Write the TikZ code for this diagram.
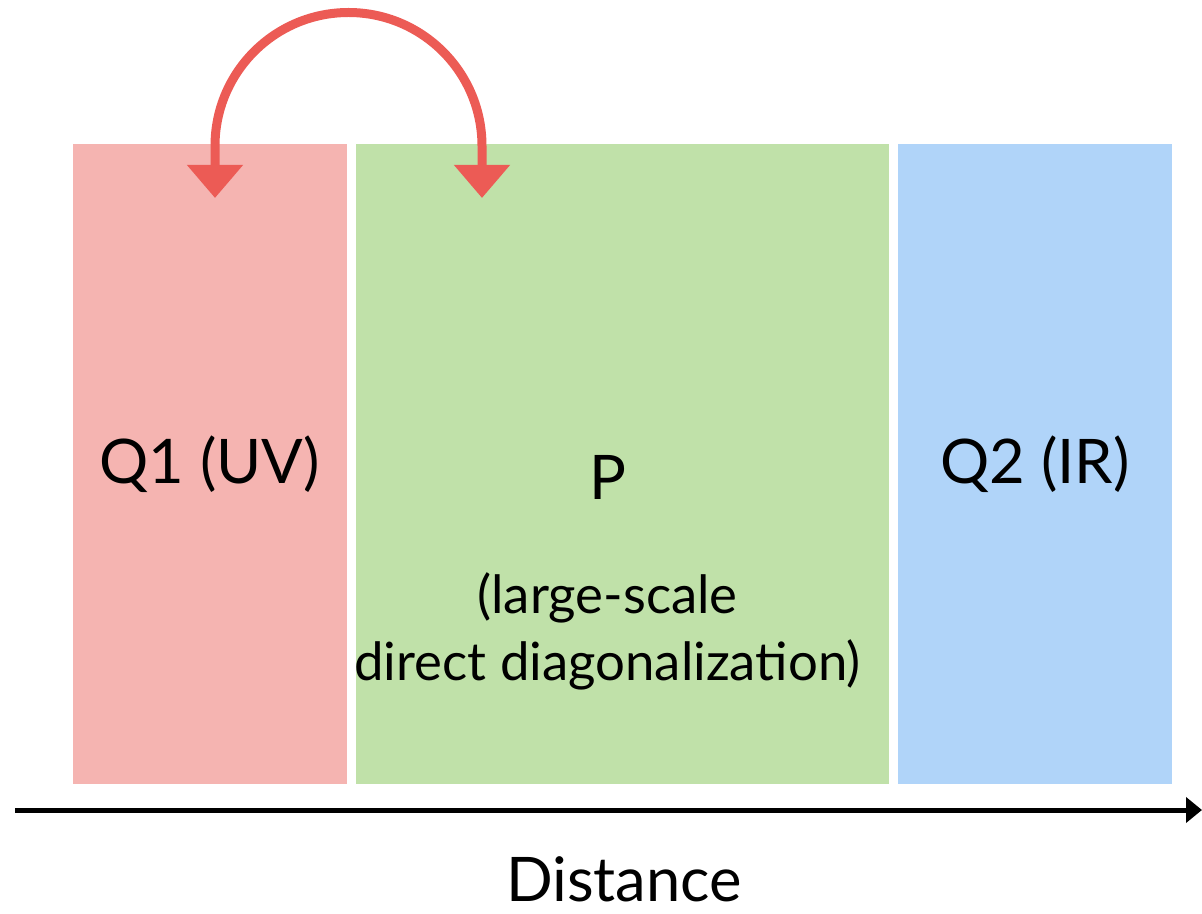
\documentclass[tikz,border=0pt]{standalone}
\usepackage{fontspec}
\setmainfont{Lato}
\usepackage{tikz}
\usetikzlibrary{arrows.meta, positioning, calc}

\definecolor{uvpink}{HTML}{F5B4B1}
\definecolor{pgreen}{HTML}{C0E1A9}
\definecolor{irblue}{HTML}{B0D4F9}
\definecolor{hopred}{HTML}{EC5B55}

\begin{document}
\begin{tikzpicture}[
    region/.style={
        rectangle, draw=none, minimum height=12.8cm,
        inner sep=0pt, outer sep=0pt,
        font=\fontsize{35}{42}\selectfont
    },
    lbl/.style={font=\fontsize{35}{42}\selectfont, inner sep=0pt},
    note/.style={font=\fontsize{30}{36}\selectfont, inner sep=0pt},
    hop/.style={draw=hopred, line width=0.18cm,
                {Triangle[length=0.66cm, width=1.08cm]}-{Triangle[length=0.66cm, width=1.08cm]}},
    axis/.style={line width=0.1cm, -{Triangle[length=0.32cm, width=0.5cm]}}
]
\useasboundingbox (0,0) rectangle (24.04,-18.28);
\node[region, fill=uvpink, minimum width=5.48cm, anchor=north west]
    (q1) at (1.46,-2.88) {Q1 (UV)};
\node[region, fill=pgreen, minimum width=10.66cm, right=0.18cm of q1] (p) {};
\node[region, fill=irblue, minimum width=5.48cm, right=0.18cm of p] (q2) {Q2 (IR)};
% labels inside the P region
\node[lbl, anchor=base] (ptitle) at ($(p.north)+(-0.3,-7.12)$) {P};
\node[note, anchor=base] (pnote1) at ($(ptitle.base)+(0,-2.26)$) {(large-scale};
\node[note, anchor=base] (pnote2) at ($(pnote1.base)+(0,-1.34)$) {direct diagonalization)};
% distance axis
\coordinate (axstart) at (0.3,-16.2);
\coordinate (axend) at (24.04,-16.2);
\draw[axis] (axstart) -- (axend);
\node[lbl, anchor=base] (dist) at (12.48,-18.02) {Distance};
% arc between Q1 and P
\coordinate (qin) at ($(q1.north west)+(2.84,-1.08)$);
\coordinate (pin) at ($(qin)+(5.34,0)$);
\draw[hop] (qin) -- ++(0,1.04) arc[start angle=180, end angle=0, radius=2.67] -- (pin);
\end{tikzpicture}
\end{document}
